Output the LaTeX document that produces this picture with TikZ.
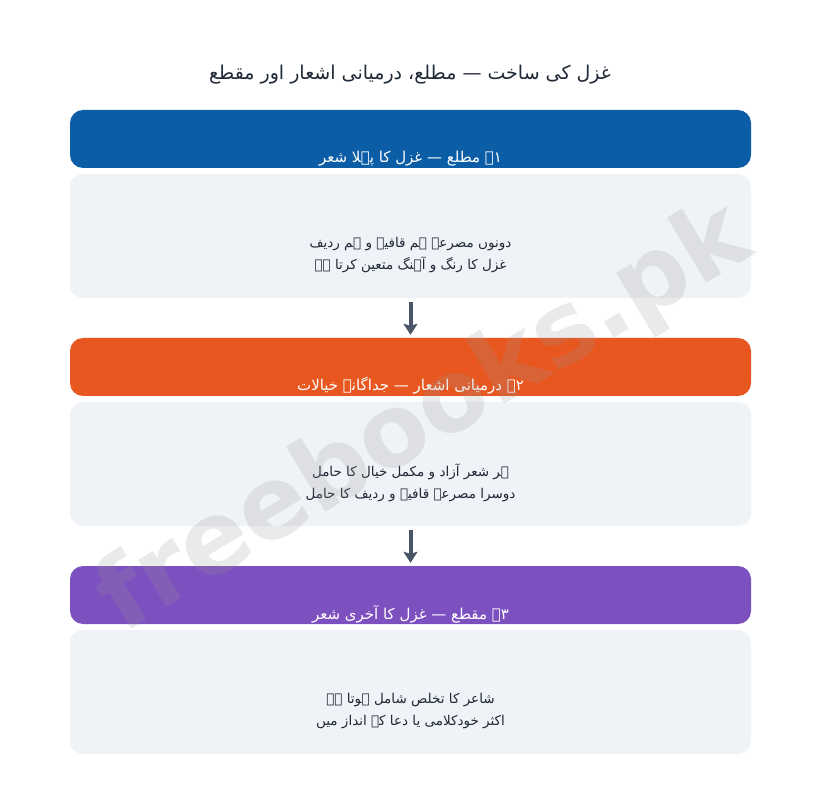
\documentclass[tikz,border=0pt]{standalone}
\usepackage{fontspec}
\TeXXeTstate=1
\newfontfamily\urdu[Script=Arabic]{DejaVu Sans}
\newfontfamily\wmfont{DejaVu Sans}
\usetikzlibrary{arrows.meta}
\definecolor{hblue}{RGB}{11,94,166}
\definecolor{horange}{RGB}{232,87,32}
\definecolor{hpurple}{RGB}{125,80,192}
\definecolor{boxgray}{RGB}{239,242,247}
\definecolor{txtdark}{RGB}{31,41,55}
\definecolor{arrowgray}{RGB}{74,85,104}
\definecolor{wmgray}{RGB}{150,150,150}
\begin{document}
\begin{tikzpicture}[x=1pt,y=-1pt,
  headbar/.style={rounded corners=13pt, minimum width=681pt, minimum height=58pt, inner sep=0pt, draw=none},
  bodybox/.style={fill=boxgray, rounded corners=13pt, minimum width=681pt, minimum height=124pt, inner sep=0pt, draw=none},
  headtext/.style={text=white, font=\urdu\fontsize{15}{18}\selectfont, anchor=base, inner sep=0pt},
  bodytext/.style={text=txtdark, font=\urdu\fontsize{13.5}{22}\selectfont, align=center, inner sep=0pt},
  flowarrow/.style={draw=arrowgray, line width=4pt, -{Stealth[length=11pt,width=14pt,inset=2pt]}, shorten <=4pt, shorten >=3pt}
]
\useasboundingbox (0,0) rectangle (820,794);
\fill[white] (0,0) rectangle (820,794);

% title
\node[text=txtdark, font=\urdu\fontsize{19}{24}\selectfont] (title) at (410,75)
  {\beginR غزل کی ساخت — مطلع، درمیانی اشعار اور مقطع\endR};

% headers
\node[headbar, fill=hblue] (h1) at (410.5,139) {};
\node[headbar, fill=horange] (h2) at (410.5,367) {};
\node[headbar, fill=hpurple] (h3) at (410.5,595) {};

\begin{scope}
\clip[rounded corners=13pt] (h1.north west) rectangle (h1.south east);
\node[headtext] (h1t) at (410.5,163) {\beginR ۱۔ مطلع — غزل کا پہلا شعر\endR};
\end{scope}
\begin{scope}
\clip[rounded corners=13pt] (h2.north west) rectangle (h2.south east);
\node[headtext] (h2t) at (410.5,391) {\beginR ۲۔ درمیانی اشعار — جداگانہ خیالات\endR};
\end{scope}
\begin{scope}
\clip[rounded corners=13pt] (h3.north west) rectangle (h3.south east);
\node[headtext] (h3t) at (410.5,619) {\beginR ۳۔ مقطع — غزل کا آخری شعر\endR};
\end{scope}

% bodies
\node[bodybox] (b1) at (410.5,236) {};
\node[bodybox] (b2) at (410.5,464) {};
\node[bodybox] (b3) at (410.5,692) {};

\node[bodytext] (b1t) at (410.5,255)
  {\beginR دونوں مصرعے ہم قافیہ و ہم ردیف\endR\\\beginR غزل کا رنگ و آہنگ متعین کرتا ہے\endR};
\node[bodytext] (b2t) at (410.5,483)
  {\beginR ہر شعر آزاد و مکمل خیال کا حامل\endR\\\beginR دوسرا مصرعہ قافیہ و ردیف کا حامل\endR};
\node[bodytext] (b3t) at (410.5,711)
  {\beginR شاعر کا تخلص شامل ہوتا ہے\endR\\\beginR اکثر خودکلامی یا دعا کے انداز میں\endR};

% arrows
\draw[flowarrow] (b1.south) -- (h2.north);
\draw[flowarrow] (b2.south) -- (h3.north);

% watermark
\node[text=wmgray, opacity=0.2, rotate=31, font=\wmfont\bfseries\fontsize{100}{100}\selectfont] (wm) at (425,420) {freebooks.pk};
\end{tikzpicture}
\end{document}
